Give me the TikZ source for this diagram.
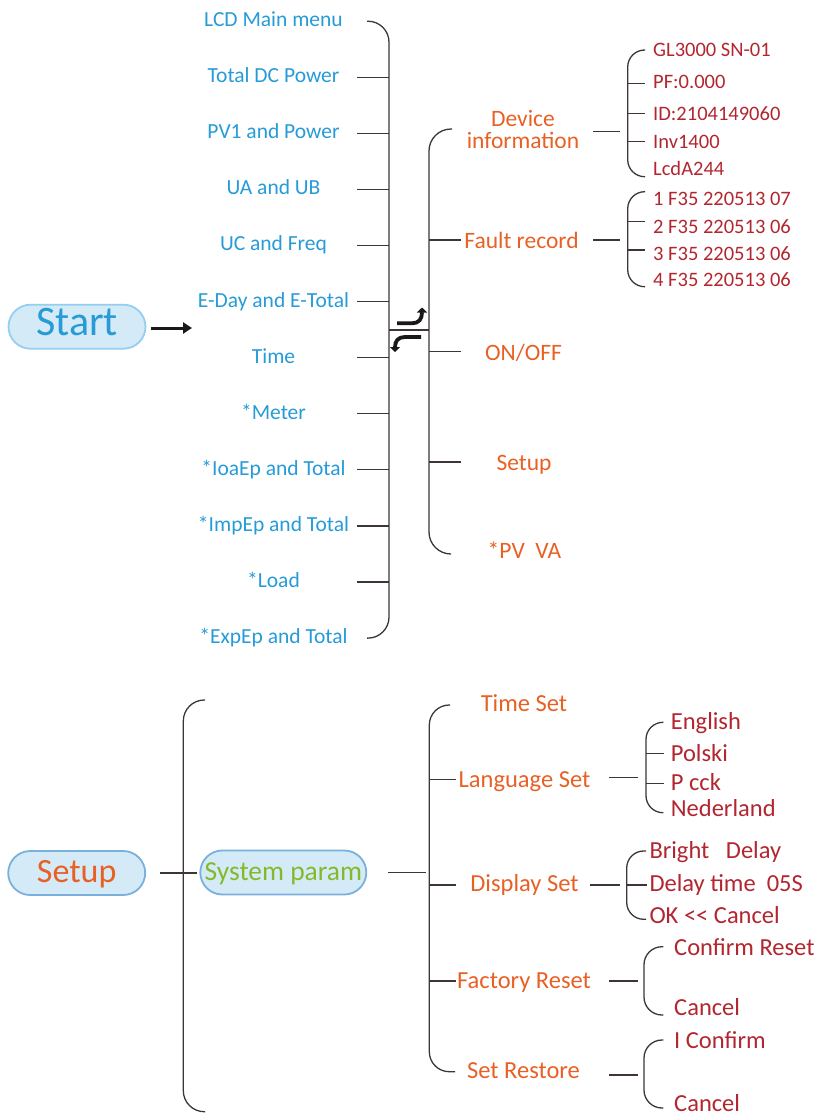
\documentclass[tikz,border=0pt]{standalone}
\usepackage{fontspec}
\setmainfont{Carlito}
\usetikzlibrary{arrows.meta}
\definecolor{cblue}{RGB}{38,155,215}
\definecolor{corange}{RGB}{232,96,36}
\definecolor{cred}{RGB}{178,38,48}
\definecolor{cgreen}{RGB}{132,186,42}
\definecolor{cline}{RGB}{62,54,54}
\definecolor{cfill}{RGB}{212,234,247}
\definecolor{cborder}{RGB}{122,176,220}
\definecolor{cborderlt}{RGB}{148,206,241}
\tikzset{
  brline/.style={draw=cline, line width=1.3pt},
  menutxt/.style={text=cblue, font=\fontsize{21.5}{24}\selectfont, inner sep=0pt, anchor=base},
  orgtxt/.style={text=corange, font=\fontsize{23.5}{21.6}\selectfont, inner sep=0pt, anchor=base},
  redtxt/.style={text=cred, font=\fontsize{20.5}{24}\selectfont, inner sep=0pt, anchor=base west},
  orgtxtb/.style={text=corange, font=\fontsize{24.5}{28}\selectfont, inner sep=0pt, anchor=base},
  redtxtb/.style={text=cred, font=\fontsize{24.5}{28}\selectfont, inner sep=0pt, anchor=base west},
  pill/.style={draw=cborder, fill=cfill, line width=1.8pt, rounded corners=22pt, minimum height=44pt, inner xsep=0pt, inner ysep=0pt},
  symb/.style={draw=black!90, line width=3.8pt, -{Triangle[length=5pt,width=10pt]}},
  bigarrow/.style={draw=black!90, line width=3pt, -{Triangle[length=9pt,width=11pt]}},
}
\begin{document}
\begin{tikzpicture}[x=1pt,y=-1pt]
\useasboundingbox (0,0) rectangle (818,1114);

% ---------------- Start ----------------
\node[pill, draw=cborderlt, minimum width=137pt, text=cblue, font=\fontsize{42}{42}\selectfont, text height=27pt, text depth=10pt] (start) at (77,326.7) {Start};
\coordinate (startTip) at (192,328);
\draw[bigarrow] ([xshift=5pt,yshift=-1.3pt]start.east) -- (startTip);

% ---------------- main menu ----------------
\foreach \t [count=\i from 0] in {LCD Main menu,Total DC Power,PV1 and Power,UA and UB,UC and Freq,E-Day and E-Total,Time,*Meter,*IoaEp and Total,*ImpEp and Total,*Load,*ExpEp and Total}
  \node[menutxt] (m\i) at (273.5,{26.6+56.08*\i}) {\t};

\draw[brline, rounded corners=21pt] (367,21.2) -- (389,21.2) -- (389,638.1) -- (367,638.1);
\foreach \i in {1,...,10} \draw[brline] (357,{21.2+56.08*\i}) -- (389,{21.2+56.08*\i});

% separator and switch symbols
\draw[cline, line width=1.8pt] (389,330) -- (429,330);
\draw[symb] (397,323.3) -- (412,323.3) .. controls (419,323.3) and (422,319) .. (422,307.5);
\draw[symb] (421,337) -- (405,337) .. controls (398,337) and (395,341) .. (395,352);

% right bracket
\draw[brline, rounded corners=22pt] (452,129) -- (429,129) -- (429,554) -- (451,554);
\foreach \y in {240,351.7,462} \draw[brline] (429,\y) -- (461,\y);

\node[orgtxt, anchor=center, align=center] (dev) at (523,129.5) {Device\\information};
\node[orgtxt] (fault) at (521.5,248.3) {Fault record};
\node[orgtxt] (onoff) at (523.5,360) {ON/OFF};
\node[orgtxt] (setm) at (524,470) {Setup};
\node[orgtxt] (pvva) at (524.5,558.3) {*PV\ \ VA};

% device information
\draw[brline] (593,131.7) -- (620,131.7);
\draw[brline, rounded corners=17pt] (645,50) -- (627.7,50) -- (627.7,176.7) -- (645,176.7);
\foreach \y in {83.3,113.3,141.7} \draw[brline] (627.7,\y) -- (645,\y);
\node[redtxt] (d1) at (653,56.7) {GL3000 SN-01};
\node[redtxt] (d2) at (653,88.3) {PF:0.000};
\node[redtxt] (d3) at (653,120) {ID:2104149060};
\node[redtxt] (d4) at (653,148.3) {Inv1400};
\node[redtxt] (d5) at (653,175) {LcdA244};

% fault record
\draw[brline] (593,240) -- (620,240);
\draw[brline, rounded corners=17pt] (645,191.7) -- (627.7,191.7) -- (627.7,286.7) -- (645,286.7);
\foreach \y in {221.7,250} \draw[brline] (627.7,\y) -- (645,\y);
\node[redtxt] (f1) at (653,205) {1 F35 220513 07};
\node[redtxt] (f2) at (653,233) {2 F35 220513 06};
\node[redtxt] (f3) at (653,260) {3 F35 220513 06};
\node[redtxt] (f4) at (653,286.7) {4 F35 220513 06};

% ---------------- Setup ----------------
\node[pill, minimum width=137pt, text=corange, font=\fontsize{34}{34}\selectfont, text height=27pt, text depth=8.5pt] (setup) at (76.7,873) {Setup};
\draw[brline] ([xshift=14pt]setup.east) -- ([xshift=14pt]setup.east -| 183.3,0);
\draw[brline, rounded corners=21pt] (205,700) -- (183.3,700) -- (183.3,1111.7) -- (205,1111.7);

\node[pill, minimum width=166pt, text=cgreen, font=\fontsize{27.5}{27.5}\selectfont, text height=22pt, text depth=7pt] (sys) at (283.3,872.5) {System param};
\draw[brline] (388.3,872.3) -- (426,872.3);
\draw[brline, rounded corners=20pt] (450,705) -- (429.3,705) -- (429.3,1071.7) -- (455,1071.7);
\foreach \y in {779.3,885,981} \draw[brline] (429.3,\y) -- (456,\y);

\node[orgtxtb] (tset) at (524,711.7) {Time Set};
\node[orgtxtb] (lset) at (524.5,787.7) {Language Set};
\node[orgtxtb] (dset) at (524.5,891.7) {Display Set};
\node[orgtxtb] (frst) at (524,988.3) {Factory Reset};
\node[orgtxtb] (srst) at (523.5,1078.3) {Set Restore};

% language
\draw[brline] (609,777.7) -- (638,777.7);
\draw[brline, rounded corners=17pt] (663.3,722.3) -- (646,722.3) -- (646,812.7) -- (663.3,812.7);
\foreach \y in {753.3,783.3} \draw[brline] (646,\y) -- (664,\y);
\node[redtxtb] (l1) at (670.7,729) {English};
\node[redtxtb] (l2) at (670.7,761.7) {Polski};
\node[redtxtb] (l3) at (670.7,790) {P cck};
\node[redtxtb] (l4) at (670.7,816) {Nederland};

% display
\draw[brline] (590,885) -- (620,885);
\draw[brline, rounded corners=17pt] (646,851) -- (626.7,851) -- (626.7,919.3) -- (646,919.3);
\draw[brline] (626.7,885) -- (646.7,885);
\node[redtxtb] (ds1) at (649.3,858) {Bright\ \ \ Delay};
\node[redtxtb] (ds2) at (649.3,891.7) {Delay time\ \ 05S};
\node[redtxtb] (ds3) at (649.3,923.3) {OK <\kern0pt< Cancel};

% factory reset
\draw[brline] (609,981) -- (638,981);
\draw[brline, rounded corners=18pt] (663.3,946.7) -- (644,946.7) -- (644,1015) -- (663.3,1015);
\node[redtxtb] (fr1) at (674,955) {Confirm Reset};
\node[redtxtb] (fr2) at (674,1015) {Cancel};

% set restore
\draw[brline] (609,1075) -- (638,1075);
\draw[brline, rounded corners=18pt] (663.3,1040) -- (644,1040) -- (644,1108) -- (663.3,1108);
\node[redtxtb] (sr1) at (674,1048.3) {I Confirm};
\node[redtxtb] (sr2) at (674,1111.5) {Cancel};
\end{tikzpicture}
\end{document}
